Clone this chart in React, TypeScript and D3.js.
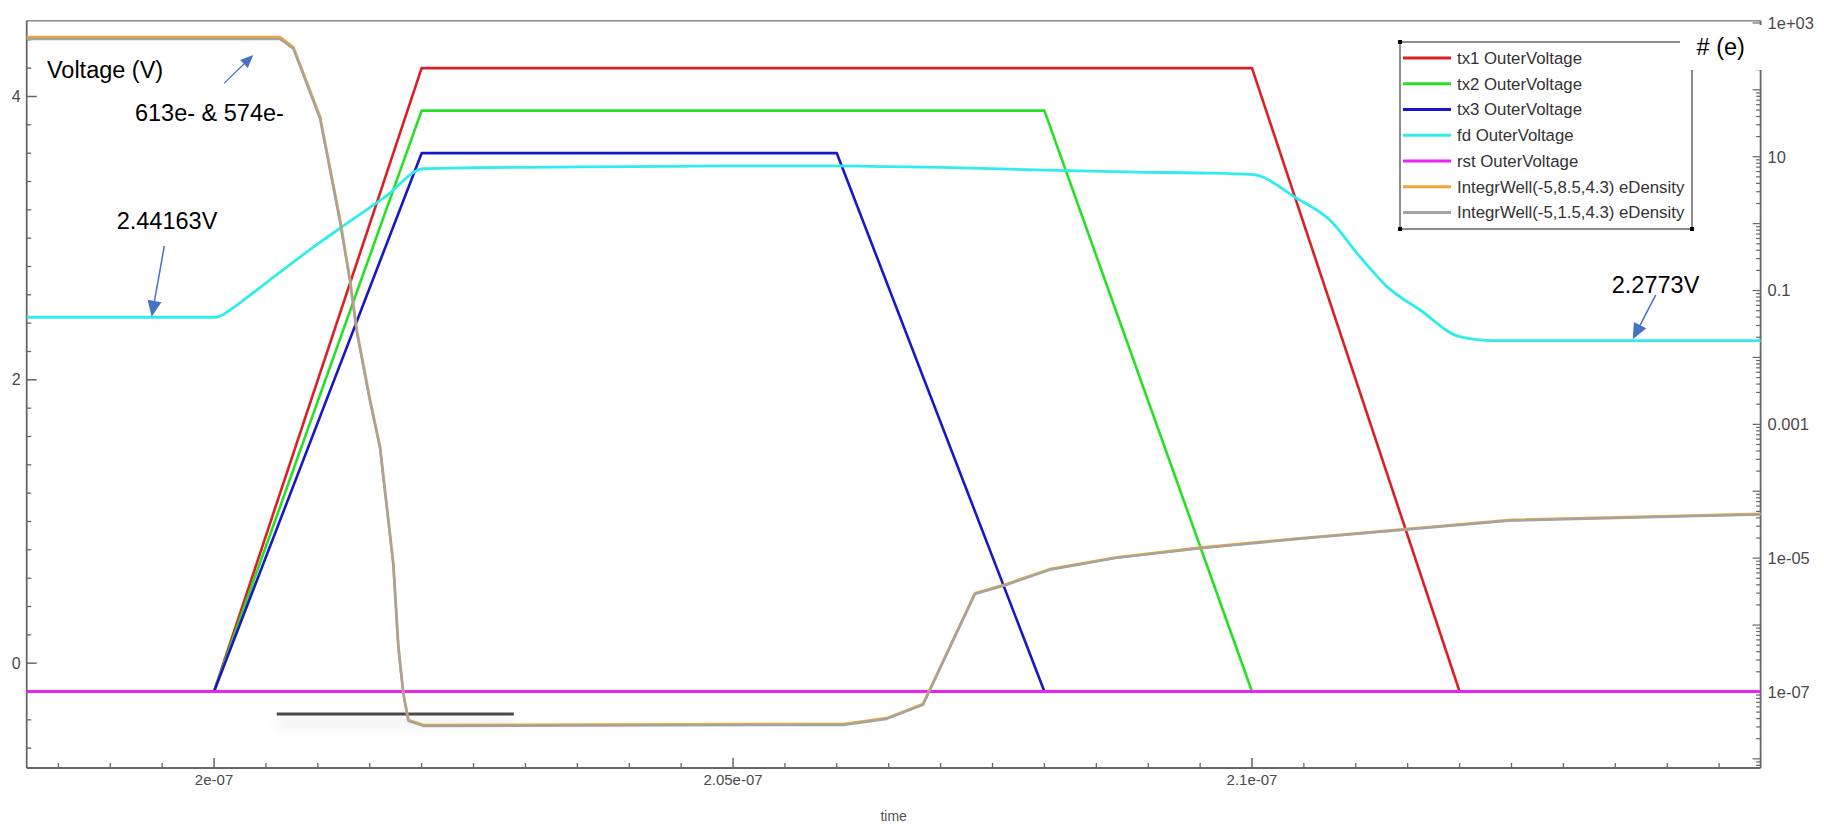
import React from 'react';
import * as d3 from 'd3';

// time in ns (axis labels are shown in seconds)
const tx1Time = [198.195, 200, 202, 210, 212, 214.9];
const tx1Volt = [-0.2, -0.2, 4.2, 4.2, -0.2, -0.2];
const tx2Time = [198.195, 200, 202, 208, 210, 214.9];
const tx2Volt = [-0.2, -0.2, 3.9, 3.9, -0.2, -0.2];
const tx3Time = [198.195, 200, 202, 206, 208, 214.9];
const tx3Volt = [-0.2, -0.2, 3.6, 3.6, -0.2, -0.2];
const fdTime = [198.195, 200.02, 200.154, 200.315, 200.6, 201.02, 201.214, 201.664, 202.016, 202.5, 203, 204, 205, 206,
  206.5, 207, 208, 209, 209.5, 210.01, 210.43, 210.75, 211.04, 211.3, 211.62, 212.0, 212.33, 214.9];
const fdVolt = [2.44163, 2.44163, 2.493, 2.58, 2.74, 2.97, 3.07, 3.3, 3.49, 3.497, 3.5, 3.505, 3.51, 3.51,
  3.505, 3.5, 3.48, 3.465, 3.46, 3.448, 3.282, 3.128, 2.869, 2.658, 2.493, 2.305, 2.2773, 2.2773];
const rstTime = [198.195, 214.9];
const rstVolt = [-0.2, -0.2];
const wellTime = [198.195, 200.636, 200.764, 201.021, 201.214, 201.31, 201.375, 201.503, 201.599, 201.727, 201.776,
  201.824, 201.872, 202.016, 205.65, 206.06, 206.48, 206.83, 207.33, 207.637, 208.05, 208.697, 209.5, 210.46, 212.5, 214.9];
const well85 = [613, 613, 433, 39.7, 1.14, 0.144, 0.0258, 0.00232, 4.64e-4, 8.4e-6, 4.75e-7,
  9.6e-8, 3.8e-8, 3.2e-8, 3.3e-8, 3.3e-8, 4.05e-8, 6.6e-8, 2.98e-6, 4.11e-6, 6.83e-6, 1.03e-5, 1.43e-5, 1.98e-5, 3.72e-5, 4.58e-5];
const well15 = [574, 574, 410, 37, 1.05, 0.135, 0.024, 0.0022, 4.4e-4, 8.0e-6, 4.5e-7,
  9.2e-8, 3.7e-8, 3.1e-8, 3.2e-8, 3.2e-8, 3.95e-8, 6.4e-8, 2.9e-6, 4.0e-6, 6.7e-6, 1.01e-5, 1.4e-5, 1.95e-5, 3.65e-5, 4.5e-5];

const seriesNames = [
  'tx1 OuterVoltage', 'tx2 OuterVoltage', 'tx3 OuterVoltage', 'fd OuterVoltage', 'rst OuterVoltage',
  'IntegrWell(-5,8.5,4.3) eDensity', 'IntegrWell(-5,1.5,4.3) eDensity',
];
const seriesColors = ['#dc1f24', '#25e025', '#1818c8', '#30ecec', '#ee22ee', '#f2a634', '#a3a3a3'];
const seriesWidths = [2.6, 2.6, 2.6, 2.8, 2.8, 2.8, 2.4];

const xTickValues = [200, 205, 210];
const xTickLabels = ['2e-07', '2.05e-07', '2.1e-07'];
const yLeftTicks = [0, 2, 4];
const yRightTicks = [1e3, 10, 0.1, 1e-3, 1e-5, 1e-7];
const yRightLabels = ['1e+03', '10', '0.1', '0.001', '1e-05', '1e-07'];

const W = 1824, H = 834;
const L = 26.7, R = 1760.6, T = 20.7, B = 768;
const FONT = '"Liberation Sans", Arial, Helvetica, sans-serif';

const Arrow = ({ x1, y1, x2, y2, len, w, sw }: any) => {
  const d = Math.hypot(x2 - x1, y2 - y1);
  const ux = (x2 - x1) / d, uy = (y2 - y1) / d;
  const bx = x2 - ux * len, by = y2 - uy * len;
  const px = -uy, py = ux;
  return (
    <g>
      <line x1={x1} y1={y1} x2={bx} y2={by} stroke="#4472c4" strokeWidth={sw} />
      <polygon
        points={`${x2},${y2} ${bx + (px * w) / 2},${by + (py * w) / 2} ${bx - (px * w) / 2},${by - (py * w) / 2}`}
        fill="#4472c4"
      />
    </g>
  );
};

export default function App() {
  const x = d3.scaleLinear().domain([198.195, 214.9]).range([L, R]);
  const yV = d3.scaleLinear().domain([-0.74, 4.535]).range([B, T]);
  const yN = d3.scaleLog().domain([7.3e-9, 1080]).range([B, T]);

  const lineV = (ts: number[], vs: number[], curve: d3.CurveFactory = d3.curveLinear) =>
    d3.line<number>().x((_, i) => x(ts[i])).y((v) => yV(v)).curve(curve)(vs) || '';
  const lineN = (ts: number[], vs: number[]) =>
    d3.line<number>().x((_, i) => x(ts[i])).y((v) => yN(v))(vs) || '';

  const paths = [
    lineV(tx1Time, tx1Volt),
    lineV(tx2Time, tx2Volt),
    lineV(tx3Time, tx3Volt),
    lineV(fdTime, fdVolt, d3.curveMonotoneX),
    lineV(rstTime, rstVolt),
    lineN(wellTime, well85),
    lineN(wellTime, well15),
  ];

  const xMinor = d3.range(198.5, 214.9, 0.5).filter((t) => Math.abs(t % 5) > 1e-6);
  const yMinor = d3.range(-0.6, 4.5, 0.2).filter((v) => Math.abs(Math.round(v) - v) > 1e-6 || Math.round(v) % 2 !== 0);
  const logTicks: { v: number; major: boolean }[] = [];
  for (let e = -9; e <= 3; e++) {
    for (let k = 1; k <= 9; k++) {
      const v = k * Math.pow(10, e);
      if (v >= 7.3e-9 && v <= 1080) logTicks.push({ v, major: k === 1 });
    }
  }

  const legX = 1400, legY = 42, legR = 1692, legB = 229;
  const rowY = (i: number) => 58 + i * 25.75;

  const barY = yV(-0.359);

  return (
    <svg width={W} height={H} style={{ display: 'block', background: '#fff' }} fontFamily={FONT}>
      <style>{`body{margin:0}`}</style>
      <defs>
        <filter id="barShadow" filterUnits="userSpaceOnUse" x={200} y={barY - 40} width={400} height={100}>
          <feDropShadow dx="0" dy="9" stdDeviation="6" floodColor="#000" floodOpacity="0.17" />
        </filter>
      </defs>

      {/* frame */}
      <line x1={L} y1={T} x2={R} y2={T} stroke="#888" strokeWidth={1.5} />
      <line x1={L} y1={T} x2={L} y2={B} stroke="#666" strokeWidth={1.8} />
      <line x1={L} y1={B} x2={R} y2={B} stroke="#666" strokeWidth={1.8} />
      <line x1={R} y1={T} x2={R} y2={B} stroke="#666" strokeWidth={1.8} />

      {/* left axis ticks */}
      {yLeftTicks.map((v) => (
        <g key={'yl' + v}>
          <line x1={L} x2={L + 10} y1={yV(v)} y2={yV(v)} stroke="#666" strokeWidth={1.5} />
          <text x={L - 6} y={yV(v)} dy="0.35em" textAnchor="end" fontSize={16} fill="#4a4a4a">{v}</text>
        </g>
      ))}
      {yMinor.map((v) => (
        <line key={'ym' + v} x1={L} x2={L + 4.5} y1={yV(v)} y2={yV(v)} stroke="#666" strokeWidth={1.3} />
      ))}

      {/* bottom axis ticks */}
      {xTickValues.map((t, i) => (
        <g key={'xt' + t}>
          <line x1={x(t)} x2={x(t)} y1={B} y2={B - 10} stroke="#666" strokeWidth={1.5} />
          <text x={x(t)} y={B + 17} textAnchor="middle" fontSize={15} fill="#4a4a4a">{xTickLabels[i]}</text>
        </g>
      ))}
      {xMinor.map((t) => (
        <line key={'xm' + t} x1={x(t)} x2={x(t)} y1={B} y2={B - 5} stroke="#666" strokeWidth={1.3} />
      ))}
      <text x={(L + R) / 2} y={B + 53} textAnchor="middle" fontSize={14} fill="#555">time</text>

      {/* right log axis ticks */}
      {logTicks.map(({ v, major }) => (
        <line key={'yr' + v} x1={R} x2={R - (major ? 8 : 4.5)} y1={yN(v)} y2={yN(v)} stroke="#666" strokeWidth={1.2} />
      ))}
      {yRightTicks.map((v, i) => (
        <text key={'yrl' + v} x={R + 7} y={yN(v)} dy="0.35em" fontSize={16.5} fill="#4a4a4a">{yRightLabels[i]}</text>
      ))}

      {/* dark bar with shadow */}
      <rect x={x(200.604)} width={x(202.888) - x(200.604)} y={barY - 1.5} height={3} fill="#4a4a4a"
        filter="url(#barShadow)" />

      {/* series */}
      {paths.map((p, i) => (
        <path key={'s' + i} d={p} fill="none" stroke={seriesColors[i]} strokeWidth={seriesWidths[i]}
          strokeLinejoin="round" />
      ))}

      {/* legend */}
      <line x1={legX} y1={legY} x2={1680} y2={legY} stroke="#666" strokeWidth={1.5} />
      <line x1={legX} y1={legY} x2={legX} y2={legB} stroke="#666" strokeWidth={1.5} />
      <line x1={legX} y1={legB} x2={legR} y2={legB} stroke="#666" strokeWidth={1.5} />
      <line x1={legR} y1={70} x2={legR} y2={legB} stroke="#666" strokeWidth={1.5} />
      {[[legX, legY], [legX, legB], [legR, legB]].map(([cx, cy], i) => (
        <rect key={'c' + i} x={cx - 2} y={cy - 2} width={4} height={4} fill="#000" />
      ))}
      {seriesNames.map((n, i) => (
        <g key={'lg' + i}>
          <line x1={1403} x2={1451} y1={rowY(i)} y2={rowY(i)} stroke={seriesColors[i]} strokeWidth={3} />
          <text x={1457} y={rowY(i)} dy="0.35em" fontSize={16.8} fill="#333">{n}</text>
        </g>
      ))}

      {/* right axis title box */}
      <rect x={1681} y={25} width={86} height={45} fill="#fff" />
      <text x={R - 64} y={55} fontSize={23.5} fill="#000">{'# (e)'}</text>

      {/* annotations */}
      <text x={x(198.39)} y={yV(4.13)} fontSize={23.5} fill="#000">Voltage (V)</text>
      <text x={x(199.238)} y={yV(3.827)} fontSize={23.5} fill="#000">613e- &amp; 574e-</text>
      <text x={x(199.062)} y={yV(3.065)} fontSize={23.5} fill="#000">2.44163V</text>
      <text x={x(213.466)} y={yV(2.613)} fontSize={23.5} fill="#000">2.2773V</text>
      <Arrow x1={x(200.096)} y1={yV(4.093)} x2={x(200.378)} y2={yV(4.293)} len={13} w={11} sw={1.2} />
      <Arrow x1={x(199.521)} y1={yV(2.945)} x2={x(199.399)} y2={yV(2.446)} len={16} w={14} sw={1.5} />
      <Arrow x1={x(213.89)} y1={yV(2.599)} x2={x(213.668)} y2={yV(2.286)} len={16} w={14} sw={1.5} />
    </svg>
  );
}
